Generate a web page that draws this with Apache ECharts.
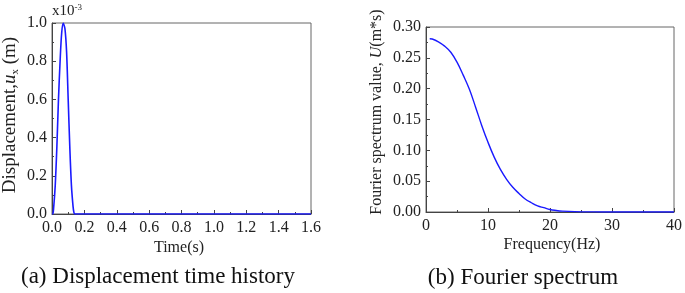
<!DOCTYPE html>
<html><head><meta charset="utf-8">
<script src="https://cdn.jsdelivr.net/npm/echarts@6/dist/echarts.min.js"></script>
<style>html,body{margin:0;padding:0;background:#fff}#c{width:685px;height:293px}</style>
</head><body><div id="c"></div>
<script>
// Displacement time history (units of 1e-3 m)
const timeS = [0, 0.005, 0.01, 0.02, 0.03, 0.04, 0.05, 0.06, 0.07, 0.072, 0.08, 0.09, 0.10, 0.11, 0.12, 0.13, 0.135, 0.14, 0.2, 0.4, 0.6, 0.8, 1.0, 1.2, 1.4, 1.6];
const dispX = [0, 0, 0.03, 0.15, 0.35, 0.6, 0.8, 0.95, 1.0, 1.0, 0.97, 0.85, 0.6, 0.35, 0.15, 0.04, 0.01, 0, 0, 0, 0, 0, 0, 0, 0, 0];
// Fourier spectrum
const freqHz = [0.6, 1, 2, 3, 4, 5, 6, 7, 8, 9, 10, 11, 12, 13, 14, 15, 16, 17, 18, 19, 20, 21, 22, 24, 27, 30, 35, 40];
const fourierU = [0.281, 0.2805, 0.276, 0.269, 0.259, 0.243, 0.222, 0.199, 0.170, 0.140, 0.113, 0.089, 0.069, 0.053, 0.040, 0.030, 0.021, 0.015, 0.010, 0.007, 0.004, 0.0025, 0.0015, 0.0006, 0.0002, 0.0001, 0.0001, 0];
const timeTicks = {min: 0, max: 1.6, interval: 0.2};
const dispTicks = {min: 0, max: 1.0, interval: 0.2};
const freqTicks = {min: 0, max: 40, interval: 10};
const specTicks = {min: 0, max: 0.30, interval: 0.05};

const FONT = '"Liberation Serif", "Times New Roman", serif';
const AX = '#444';
function axis(t, gi, fmt, isY) {
  return {
    type: 'value', gridIndex: gi, min: t.min, max: t.max, interval: t.interval,
    axisLine: {show: true, onZero: false, lineStyle: {color: AX, width: 1}},
    axisTick: {show: true, inside: true, length: 4, lineStyle: {color: AX}},
    minorTick: {show: true, splitNumber: 2, length: 2, lineStyle: {color: AX}},
    splitLine: {show: false},
    axisLabel: {color: '#222', fontFamily: FONT, fontSize: 16, margin: isY ? 5 : 6, formatter: fmt, showMinLabel: true, showMaxLabel: true}
  };
}
const chart = echarts.init(document.getElementById('c'), null, {renderer: 'canvas'});
chart.setOption({
  animation: false,
  grid: [
    {left: 52, right: 374, top: 23, bottom: 79, show: true, borderColor: '#666', borderWidth: 1},
    {left: 426, right: 9, top: 27, bottom: 81, show: true, borderColor: '#666', borderWidth: 1}
  ],
  xAxis: [
    axis(timeTicks, 0, v => v.toFixed(1), false),
    axis(freqTicks, 1, v => String(Math.round(v)), false)
  ],
  yAxis: [
    axis(dispTicks, 0, v => v.toFixed(1), true),
    axis(specTicks, 1, v => v.toFixed(2), true)
  ],
  series: [
    {type: 'line', xAxisIndex: 0, yAxisIndex: 0, data: timeS.map((t, i) => [t, dispX[i]]), smooth: 0.3, showSymbol: false, lineStyle: {color: '#1a1aff', width: 1.6}},
    {type: 'line', xAxisIndex: 1, yAxisIndex: 1, data: freqHz.map((f, i) => [f, fourierU[i]]), smooth: 0.4, showSymbol: false, lineStyle: {color: '#1a1aff', width: 1.4}}
  ],
  graphic: [
    {type: 'text', left: 52, top: 3, style: {text: '{a|x10}{s|-3}', rich: {a: {fontFamily: FONT, fontSize: 15, fill: '#222'}, s: {fontFamily: FONT, fontSize: 9, fill: '#222', verticalAlign: 'top', padding: [0,0,8,0]}}}},
    {type: 'text', x: 10, y: 115, rotation: Math.PI / 2, style: {text: '{a|Displacement,}{i|u}{s|x}{a| (m)}', align: 'center', verticalAlign: 'middle', rich: {a: {fontFamily: FONT, fontSize: 19, fill: '#222'}, i: {fontFamily: FONT, fontSize: 19, fontStyle: 'italic', fill: '#222'}, s: {fontFamily: FONT, fontSize: 11, fill: '#222', padding: [10,0,0,0]}}}},
    {type: 'text', x: 179, y: 248, style: {text: 'Time(s)', align: 'center', verticalAlign: 'middle', font: '16px ' + FONT, fill: '#222'}},
    {type: 'text', x: 377, y: 112, rotation: Math.PI / 2, style: {text: '{a|Fourier spectrum value, }{i|U}{a|(m*s)}', align: 'center', verticalAlign: 'middle', rich: {a: {fontFamily: FONT, fontSize: 16, fill: '#222'}, i: {fontFamily: FONT, fontSize: 16, fontStyle: 'italic', fill: '#222'}}}},
    {type: 'text', x: 552, y: 245, style: {text: 'Frequency(Hz)', align: 'center', verticalAlign: 'middle', font: '16px ' + FONT, fill: '#222'}},
    {type: 'text', x: 158, y: 277, style: {text: '(a) Displacement time history', align: 'center', verticalAlign: 'middle', font: '23px ' + FONT, fill: '#111'}},
    {type: 'text', x: 523, y: 278, style: {text: '(b) Fourier spectrum', align: 'center', verticalAlign: 'middle', font: '23px ' + FONT, fill: '#111'}}
  ]
});
</script></body></html>
